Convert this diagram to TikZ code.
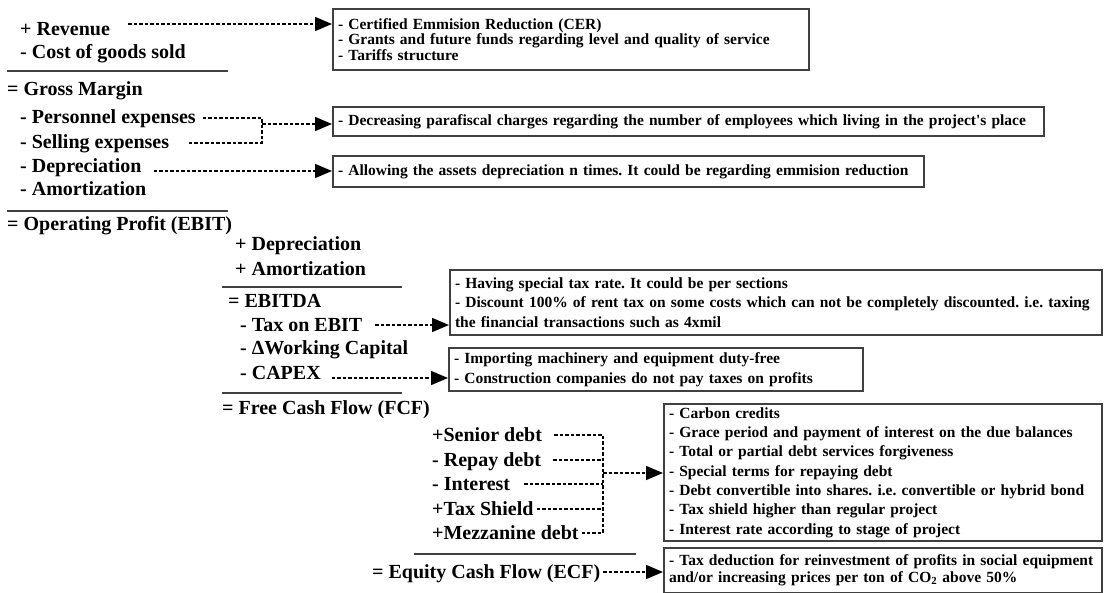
\documentclass[tikz,border=0pt]{standalone}
\usepackage{fontspec}
\setmainfont{Liberation Serif}
\usetikzlibrary{arrows.meta}
\frenchspacing
\begin{document}
\begin{tikzpicture}[x=1pt,y=-1pt,
item/.style={anchor=west,inner sep=0pt,text height=15pt,text depth=3pt,font=\fontsize{20}{24}\selectfont\bfseries},
note/.style={anchor=north west,draw=black!75,line width=2pt,fill=white,inner xsep=5pt,inner ysep=0pt,align=left,font=\fontsize{15.5}{19.5}\selectfont\bfseries},
rule/.style={line width=2.4pt,black!75},
dline/.style={line width=1.6pt,dash pattern=on 3.5pt off 2pt},
darrow/.style={dline,-{Triangle[length=17pt,width=14pt]}}]
\useasboundingbox (0,0) rectangle (1105,593);
% income statement
\node[item] (rev) at (20,30) {+ Revenue};
\node[item] (cogs) at (20,53) {- Cost of goods sold};
\draw[rule] (7,71)--(228,71);
\node[item] (gm) at (7,90) {= Gross Margin};
\node[item] (pers) at (20,118) {- Personnel expenses};
\node[item] (sell) at (20,143) {- Selling expenses};
\node[item] (dep) at (20,167) {- Depreciation};
\node[item] (amo) at (20,190) {- Amortization};
\draw[rule] (7,211)--(228,211);
\node[item] (ebit) at (7,225) {= Operating Profit (EBIT)};
\node[item] (dep2) at (235,245) {+ Depreciation};
\node[item] (amo2) at (235,270) {+ Amortization};
\draw[rule] (222,287)--(402,287);
\node[item] (ebitda) at (228,302) {= EBITDA};
\node[item] (tax) at (240,325) {- Tax on EBIT};
\node[item] (wc) at (240,349) {- ΔWorking Capital};
\node[item] (capex) at (240,373) {- CAPEX};
\draw[rule] (222,393)--(402,393);
\node[item] (fcf) at (222,408) {= Free Cash Flow (FCF)};
\node[item] (senior) at (432,435) {+Senior debt};
\node[item] (repay) at (432,460) {- Repay debt};
\node[item] (inter) at (432,484) {- Interest};
\node[item] (shield) at (432,509) {+Tax Shield};
\node[item] (mezz) at (432,533) {+Mezzanine debt};
\draw[rule] (414,554)--(636,554);
\node[item] (ecf) at (372,572) {= Equity Cash Flow (ECF)};
% boxes
\node[note,text width=466pt,minimum height=61pt,font=\fontsize{15.5}{15.5}\selectfont\bfseries] (cer) at (332,8)
{- Certified Emmision Reduction (CER)\\- Grants and future funds regarding level and quality of service\\- Tariffs structure};
\node[note,text width=701pt,minimum height=29pt] (para) at (332,106)
{- Decreasing parafiscal charges regarding the number of employees which living in the project\textquotesingle s place};
\node[note,text width=581pt,minimum height=31pt] (amort) at (332,155)
{- Allowing the assets depreciation n times. It could be regarding emmision reduction};
\node[note,text width=642pt,minimum height=65pt] (rate) at (449,269)
{- Having special tax rate. It could be per sections\\- Discount 100\% of rent tax on some costs which can not be completely discounted. i.e. taxing\\the financial transactions such as 4xmil};
\node[note,text width=404pt,minimum height=43pt,font=\fontsize{15.5}{20}\selectfont\bfseries] (duty) at (448,347)
{- Importing machinery and equipment duty-free\\- Construction companies do not pay taxes on profits};
\node[note,text width=428pt,minimum height=137pt,font=\fontsize{15.5}{19.3}\selectfont\bfseries] (debt) at (663,403)
{- Carbon credits\\- Grace period and payment of interest on the due balances\\- Total or partial debt services forgiveness\\- Special terms for repaying debt\\- Debt convertible into shares. i.e. convertible or hybrid bond\\- Tax shield higher than regular project\\- Interest rate according to stage of project};
\node[note,text width=428pt,minimum height=45pt,font=\fontsize{15.5}{17}\selectfont\bfseries] (reinv) at (663,547)
{- Tax deduction for reinvestment of profits in social equipment\\and/or increasing prices per ton of CO\textsubscript{2} above 50\%};
% connectors
\draw[darrow] ([xshift=18pt,yshift=6pt]rev.east)--([yshift=6pt]rev.east -| cer.west);
\coordinate (pj) at (262,124);
\draw[dline] ([xshift=7pt]pers.east) -| (pj |- sell.east)--([xshift=18pt]sell.east);
\draw[darrow] (pj)--(pj -| para.west);
\draw[darrow] ([xshift=12pt,yshift=-4pt]dep.east)--([yshift=-4pt]dep.east -| amort.west);
\draw[darrow] ([xshift=13pt]tax.east)--(tax.east -| rate.west);
\draw[darrow] ([xshift=11pt,yshift=-5pt]capex.east)--([yshift=-5pt]capex.east -| duty.west);
\coordinate (dj) at (603,473);
\draw[dline] ([xshift=12pt]senior.east) -| (dj |- mezz.east)--([xshift=3pt]mezz.east);
\foreach \n/\g in {repay/12,inter/14,shield/3}
  \draw[dline] ([xshift=\g pt]\n.east)--(\n.east -| dj);
\draw[darrow] (dj)--(dj -| debt.west);
\draw[darrow] ([xshift=3pt]ecf.east)--(ecf.east -| reinv.west);
\end{tikzpicture}
\end{document}
